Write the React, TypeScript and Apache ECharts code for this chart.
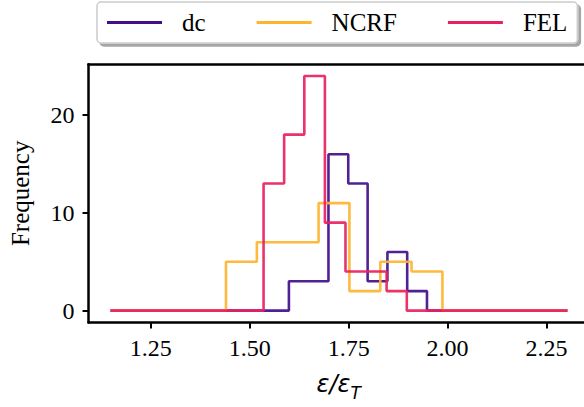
import React, { useEffect, useRef } from "react";
import * as echarts from "echarts";

const seriesNames = ["dc", "NCRF", "FEL"];
const dcEdges = [1.599, 1.649, 1.699, 1.749, 1.798, 1.848, 1.898, 1.948];
const dcCounts = [3, 3, 16, 13, 3, 6, 2];
const ncrfEdges = [1.44, 1.518, 1.596, 1.674, 1.752, 1.83, 1.909, 1.987];
const ncrfCounts = [5, 7, 7, 11, 2, 5, 4];
const felEdges = [1.535, 1.587, 1.638, 1.69, 1.742, 1.794, 1.846, 1.897];
const felCounts = [13, 18, 24, 9, 4, 4, 2];
const zeroRange = [1.148, 2.303];
const xTicks = [1.25, 1.5, 1.75, 2.0, 2.25];
const yTicks = [0, 10, 20];
const colors = ["#420e8a", "#fdb42f", "#e8215e"];

function stepPoints(edges: number[], counts: number[]) {
  const pts: number[][] = [[zeroRange[0], 0]];
  counts.forEach((c, i) => pts.push([edges[i], c]));
  pts.push([edges[edges.length - 1], 0]);
  pts.push([zeroRange[1], 0]);
  return pts;
}

export default function App() {
  const ref = useRef<HTMLDivElement>(null);
  useEffect(() => {
    if (!ref.current) return;
    const chart = echarts.init(ref.current, undefined, { renderer: "svg" });
    const serif = "Liberation Serif";
    const data = [
      stepPoints(dcEdges, dcCounts),
      stepPoints(ncrfEdges, ncrfCounts),
      stepPoints(felEdges, felCounts),
    ];
    const xMin = 1.0925;
    const xMax = 2.3575;
    chart.setOption({
      animation: false,
      backgroundColor: "#ffffff",
      grid: {
        left: 88.5,
        top: 64.2,
        width: 500.5,
        height: 258.2,
        show: false,
        outerBoundsMode: "none",
        containLabel: false,
      },
      legend: {
        data: seriesNames,
        left: 97,
        top: 2,
        padding: [8, 10, 8, 10],
        itemWidth: 55,
        itemHeight: 3,
        itemGap: 51,
        icon: "rect",
        backgroundColor: "#ffffff",
        borderColor: "#cccccc",
        borderWidth: 1.5,
        borderRadius: 4,
        shadowColor: "rgba(0,0,0,0.35)",
        shadowBlur: 0,
        shadowOffsetX: 3,
        shadowOffsetY: 3,
        textStyle: {
          fontFamily: serif,
          fontSize: 25,
          color: "#000",
          padding: [0, 0, 0, 15],
        },
      },
      xAxis: [
        {
          type: "value",
          min: xMin,
          max: xMax,
          splitLine: { show: false },
          axisLine: { show: true, onZero: false, lineStyle: { color: "#000", width: 2.5 } },
          axisTick: {
            show: true,
            customValues: xTicks,
            length: 6,
            lineStyle: { color: "#000", width: 2 },
          },
          axisLabel: {
            customValues: xTicks,
            formatter: (v: number) => v.toFixed(2),
            fontFamily: serif,
            fontSize: 24,
            color: "#000",
            margin: 14,
          },
          name: "{i|ε/ε}{s|T}",
          nameLocation: "middle",
          nameGap: 50,
          nameTextStyle: {
            rich: {
              i: {
                fontFamily: "DejaVu Sans",
                fontStyle: "italic",
                fontSize: 24,
                color: "#000",
                verticalAlign: "top",
              },
              s: {
                fontFamily: "DejaVu Sans",
                fontStyle: "italic",
                fontSize: 17,
                color: "#000",
                verticalAlign: "top",
                padding: [12, 0, 0, 0],
              },
            },
          },
        },
        {
          type: "value",
          position: "top",
          min: xMin,
          max: xMax,
          splitLine: { show: false },
          axisLine: { show: true, onZero: false, lineStyle: { color: "#000", width: 2.5 } },
          axisTick: { show: false },
          axisLabel: { show: false },
        },
      ],
      yAxis: {
        type: "value",
        min: -1.2,
        max: 25.2,
        splitLine: { show: false },
        axisLine: { show: true, onZero: false, lineStyle: { color: "#000", width: 2.5 } },
        axisTick: {
          show: true,
          customValues: yTicks,
          length: 6,
          lineStyle: { color: "#000", width: 2 },
        },
        axisLabel: {
          customValues: yTicks,
          fontFamily: serif,
          fontSize: 24,
          color: "#000",
          margin: 14,
        },
        name: "Frequency",
        nameLocation: "middle",
        nameGap: 56,
        nameTextStyle: { fontFamily: serif, fontSize: 25, color: "#000" },
      },
      series: seriesNames.map((n, i) => ({
        name: n,
        type: "line",
        step: "end",
        data: data[i],
        xAxisIndex: 0,
        symbol: "none",
        color: colors[i],
        lineStyle: { width: 2.6, color: colors[i], opacity: 0.92 },
        z: 2 + i,
      })),
    });
    return () => chart.dispose();
  }, []);
  return (
    <div
      ref={ref}
      style={{ position: "fixed", left: 0, top: 0, width: 584, height: 407, background: "#fff" }}
    />
  );
}
